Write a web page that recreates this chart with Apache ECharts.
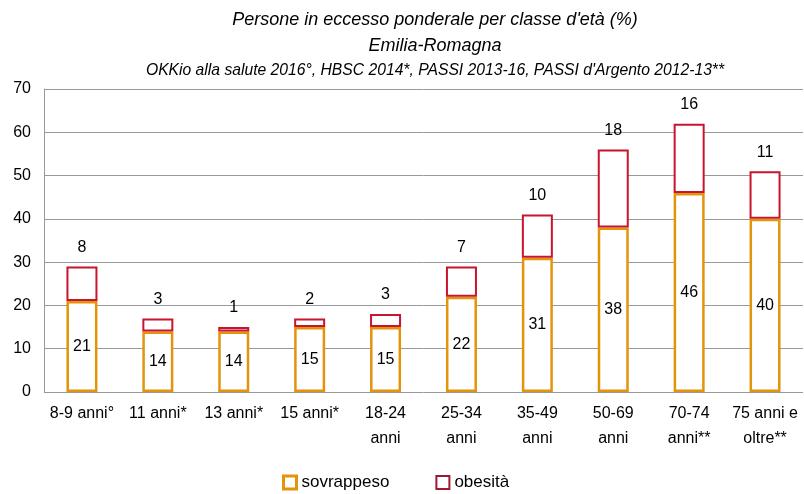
<!DOCTYPE html>
<html>
<head>
<meta charset="utf-8">
<script src="https://cdn.jsdelivr.net/npm/echarts@6/dist/echarts.min.js"></script>
<style>
html,body{margin:0;padding:0;background:#fff;}
#chart{width:804px;height:494px;}
</style>
</head>
<body>
<div id="chart"></div>
<script>
var categories = ['8-9 anni°', '11 anni*', '13 anni*', '15 anni*', '18-24\nanni', '25-34\nanni', '35-49\nanni', '50-69\nanni', '70-74\nanni**', '75 anni e\noltre**'];
var sovrappeso = [21, 14, 14, 15, 15, 22, 31, 38, 46, 40];
var obesita = [8, 3, 1, 2, 3, 7, 10, 18, 16, 11];
var yTicks = [0, 10, 20, 30, 40, 50, 60, 70];

var font = '"Liberation Sans", Arial, sans-serif';
var myChart = echarts.init(document.getElementById('chart'));
var option = {
    backgroundColor: '#fff',
    animation: false,
    title: [
        {text: "Persone in eccesso ponderale per classe d'età (%)", left: 430, top: 6, textAlign: 'center',
         textStyle: {fontFamily: font, fontStyle: 'italic', fontWeight: 'normal', fontSize: 18, color: '#000'}},
        {text: 'Emilia-Romagna', left: 430, top: 32, textAlign: 'center',
         textStyle: {fontFamily: font, fontStyle: 'italic', fontWeight: 'normal', fontSize: 18, color: '#000'}},
        {text: "OKKio alla salute 2016°, HBSC 2014*, PASSI 2013-16, PASSI d'Argento 2012-13**", left: 430, top: 58, textAlign: 'center',
         textStyle: {fontFamily: font, fontStyle: 'italic', fontWeight: 'normal', fontSize: 15.7, color: '#000'}}
    ],
    legend: {
        bottom: -2,
        left: 277,
        icon: 'rect',
        itemWidth: 13,
        itemHeight: 13,
        itemGap: 46,
        textStyle: {fontFamily: font, fontSize: 17, color: '#000'},
        data: [
            {name: 'sovrappeso', itemStyle: {borderColor: '#e3940a', borderWidth: 3}},
            {name: 'obesità', itemStyle: {borderColor: '#9e1a30', borderWidth: 2}}
        ]
    },
    grid: {left: 44, right: 1, top: 89, bottom: 102},
    xAxis: {
        type: 'category',
        data: categories,
        axisLine: {show: false},
        axisTick: {show: false},
        axisLabel: {fontFamily: font, fontSize: 16, color: '#000', lineHeight: 25, margin: 9, interval: 0}
    },
    yAxis: {
        type: 'value',
        min: 0,
        max: yTicks[yTicks.length - 1],
        interval: 10,
        axisLine: {show: true, lineStyle: {color: '#999'}},
        axisTick: {show: false},
        splitLine: {lineStyle: {color: '#999'}},
        axisLabel: {fontFamily: font, fontSize: 16, color: '#000', margin: 13}
    },
    series: [
        {
            name: 'sovrappeso',
            type: 'bar',
            stack: 'tot',
            barWidth: 31,
            data: sovrappeso,
            itemStyle: {color: '#fff', borderColor: '#e3940a', borderWidth: 2.5},
            label: {show: true, position: 'inside', fontFamily: font, fontSize: 16, color: '#000'}
        },
        {
            name: 'obesità',
            type: 'bar',
            stack: 'tot',
            barWidth: 31,
            data: obesita,
            itemStyle: {color: '#fff', borderColor: '#c8142e', borderWidth: 2},
            label: {show: true, position: 'top', distance: 11, fontFamily: font, fontSize: 16, color: '#000'}
        }
    ]
};
myChart.setOption(option);
</script>
</body>
</html>
